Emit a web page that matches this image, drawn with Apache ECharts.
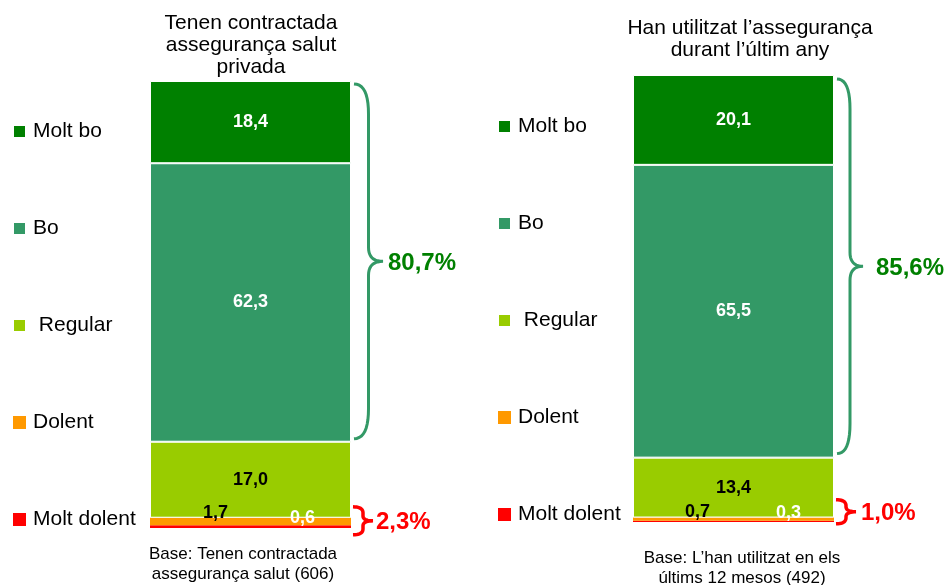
<!DOCTYPE html>
<html>
<head>
<meta charset="utf-8">
<script src="https://cdn.jsdelivr.net/npm/echarts@6/dist/echarts.min.js"></script>
<style>
html, body { margin: 0; padding: 0; background: #fff; }
#chart { width: 946px; height: 585px; }
</style>
</head>
<body>
<div id="chart"></div>
<script>
// categories, top to bottom (legend order)
var categories = ['Molt bo', 'Bo', 'Regular', 'Dolent', 'Molt dolent'];
var colors = ['#008000', '#339966', '#99CC00', '#FF9900', '#FF0000'];

// % per group, same order as categories
var contractada = [18.4, 62.3, 17.0, 1.7, 0.6];
var utilitzat = [20.1, 65.5, 13.4, 0.7, 0.3];
var groupValues = [contractada, utilitzat];
var groupNames = ['Tenen contractada', 'Han utilitzat'];

var titles = ['Tenen contractada\nassegurança salut\nprivada', 'Han utilitzat l’assegurança\ndurant l’últim any'];
var bases = ['Base: Tenen contractada\nassegurança salut (606)', 'Base: L’han utilitzat en els\núltims 12 mesos (492)'];

var FONT = 'Arial, "Liberation Sans", sans-serif';

// layout
var gridLeft = [150, 633], gridTop = [81, 75], gridW = 201, gridH = 447;
var titleX = [251, 750], titleTop = [12, 17];
var baseX = [243, 742], baseTop = [544, 548];
var legendLeft = [7, 492], legendTop = [116, 111];
var labelColors = ['#fff', '#fff', '#000', '#000', '#fff'];
// offsets for the labels of the two thin bottom segments
var smallOffsets = [
    { 3: [-35, -8], 4: [52, -9] },
    { 3: [-36, -7], 4: [55, -8] }
];

function fmt(v) {
    return v.toFixed(1).replace('.', ',');
}

var chart = echarts.init(document.getElementById('chart'));

var grids = [], xAxes = [], yAxes = [], series = [], titleList = [];
for (var g = 0; g < 2; g++) {
    grids.push({ left: gridLeft[g], top: gridTop[g], width: gridW, height: gridH });
    xAxes.push({ type: 'category', gridIndex: g, data: [groupNames[g]], show: false });
    yAxes.push({ type: 'value', gridIndex: g, min: 0, max: 100, show: false });
    // stack from the bottom: Molt dolent first
    for (var k = categories.length - 1; k >= 0; k--) {
        series.push({
            name: categories[k],
            type: 'bar',
            stack: 'g' + g,
            xAxisIndex: g,
            yAxisIndex: g,
            barWidth: '100%',
            data: [groupValues[g][k]],
            itemStyle: { color: colors[k], borderColor: '#fff', borderWidth: k <= 2 ? 1 : 0 },
            label: {
                show: true,
                position: 'inside',
                color: labelColors[k],
                fontSize: 18,
                fontWeight: 'bold',
                fontFamily: FONT,
                offset: smallOffsets[g][k] || [0, 0],
                formatter: function (p) { return fmt(p.value); }
            },
            emphasis: { disabled: true }
        });
    }
    titleList.push({
        text: titles[g], left: titleX[g], top: titleTop[g], textAlign: 'center', padding: 0,
        textStyle: { fontSize: 21, fontWeight: 'normal', color: '#000', fontFamily: FONT, lineHeight: 22 }
    });
    titleList.push({
        text: bases[g], left: baseX[g], top: baseTop[g], textAlign: 'center', padding: 0,
        textStyle: { fontSize: 17, fontWeight: 'normal', color: '#000', fontFamily: FONT, lineHeight: 20 }
    });
}

var legends = [0, 1].map(function (g) {
    return {
        data: categories,
        orient: 'vertical',
        left: legendLeft[g],
        top: legendTop[g],
        icon: 'rect',
        itemWidth: 13,
        itemHeight: 13,
        itemGap: 76,
        selectedMode: false,
        textStyle: { fontSize: 21, color: '#000', fontFamily: FONT, padding: [0, 0, 0, 2] },
        formatter: function (n) { return n === 'Regular' ? ' Regular' : n; }
    };
});

chart.setOption({
    animation: false,
    backgroundColor: '#fff',
    title: titleList,
    legend: legends,
    grid: grids,
    xAxis: xAxes,
    yAxis: yAxes,
    series: series
});

// curly braces with the sums
function quad(p0, p1, p2, pts) {
    for (var i = 0; i <= 10; i++) {
        var t = i / 10, a = (1 - t) * (1 - t), b = 2 * (1 - t) * t, c = t * t;
        pts.push([a * p0[0] + b * p1[0] + c * p2[0], a * p0[1] + b * p1[1] + c * p2[1]]);
    }
}
function bracePoints(x, y0, y1, w, r, rm) {
    var m = (y0 + y1) / 2, xv = x + w / 2, pts = [];
    quad([x, y0], [xv, y0], [xv, y0 + r], pts);
    quad([xv, m - rm], [xv, m], [x + w, m], pts);
    quad([x + w, m], [xv, m], [xv, m + rm], pts);
    quad([xv, y1 - r], [xv, y1], [x, y1], pts);
    return pts;
}

var braceGap = [3, 4], braceW = [29, 26], textGap = [5, 13];
var redShift = [-2, -8], redHalf = [14, 12], redW = [20, 20], redTextGap = [3, 5];
var graphics = [];
for (var g = 0; g < 2; g++) {
    var v = groupValues[g];
    var right = gridLeft[g] + gridW;
    var pos = v[0] + v[1];
    var neg = v[3] + v[4];
    var yTop = chart.convertToPixel({ gridIndex: g }, [0, 100])[1];
    var yBo = chart.convertToPixel({ gridIndex: g }, [0, 100 - pos])[1];
    var yBottom = chart.convertToPixel({ gridIndex: g }, [0, 0])[1];
    var yNeg = chart.convertToPixel({ gridIndex: g }, [0, neg])[1];

    var y0 = yTop + braceGap[g], y1 = yBo - braceGap[g];
    graphics.push({
        type: 'polyline', silent: true,
        shape: { points: bracePoints(right + 3, y0, y1, braceW[g], 30, 14) },
        style: { stroke: '#339966', lineWidth: 3, fill: null }
    });
    graphics.push({
        type: 'text', silent: true,
        x: right + 3 + braceW[g] + textGap[g], y: (y0 + y1) / 2 + 2,
        style: {
            text: fmt(pos) + '%', fill: '#008000', fontSize: 24, fontWeight: 'bold',
            fontFamily: FONT, verticalAlign: 'middle', align: 'left'
        }
    });

    var rm = (yNeg + yBottom) / 2 + redShift[g];
    graphics.push({
        type: 'polyline', silent: true,
        shape: { points: bracePoints(right + 2, rm - redHalf[g], rm + redHalf[g], redW[g], 6, 5) },
        style: { stroke: '#FF0000', lineWidth: 3.5, fill: null }
    });
    graphics.push({
        type: 'text', silent: true,
        x: right + 2 + redW[g] + redTextGap[g], y: rm + 2,
        style: {
            text: fmt(neg) + '%', fill: '#FF0000', fontSize: 24, fontWeight: 'bold',
            fontFamily: FONT, verticalAlign: 'middle', align: 'left'
        }
    });
}
chart.setOption({ graphic: graphics });
</script>
</body>
</html>
